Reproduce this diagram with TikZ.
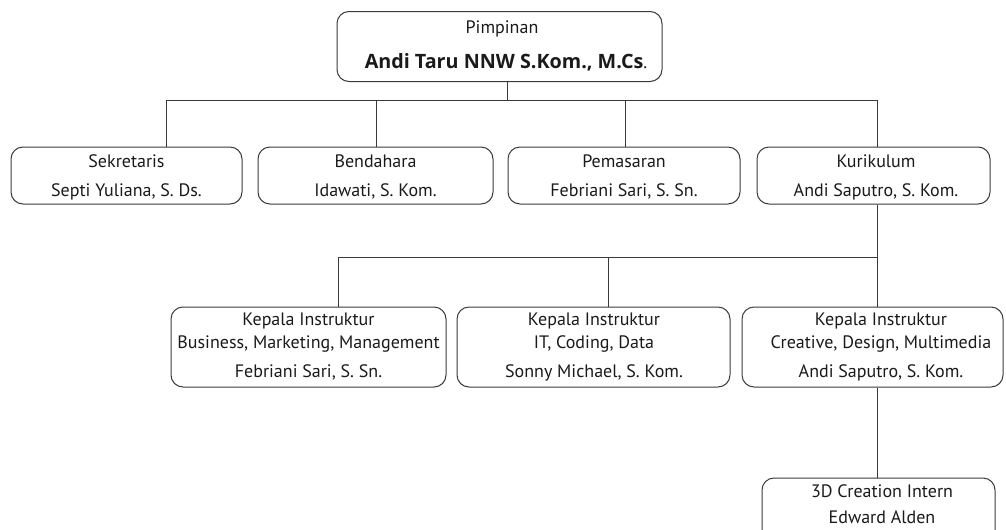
\documentclass[tikz,border=0pt]{standalone}
\usepackage{fontspec}
\setmainfont{PT Sans}
\newfontfamily\headfont{Open Sans}
\definecolor{linec}{HTML}{3A3A3A}
\definecolor{textc}{HTML}{1A1A1A}
\begin{document}
\begin{tikzpicture}[x=0.75pt,y=-0.75pt,
  box/.style 2 args={draw=linec, line width=0.75pt, rounded corners=9pt,
    minimum width={#1*0.75pt}, minimum height={#2*0.75pt}, inner sep=0pt},
  lbl/.style={font=\fontsize{13.5}{16}\selectfont, text=textc, inner sep=0pt, anchor=base},
  link/.style={draw=linec, line width=0.75pt}]
\clip (0,0) rectangle (1006,529);
% boxes
\node[box={325}{70}] (top) at (499.5,46.5) {};
\node[box={231}{57}] (sek) at (126.5,175.5) {};
\node[box={235}{57}] (ben) at (375.5,175.5) {};
\node[box={232}{57}] (pem) at (624,175.5) {};
\node[box={233}{57}] (kur) at (873.5,175.5) {};
\node[box={275}{80}] (kb) at (308.5,347) {};
\node[box={273}{80}] (ki) at (593.5,347) {};
\node[box={261}{80}] (kc) at (872.5,347) {};
\node[box={233}{70}] (intern) at (878.5,513) {};
% labels
\node[lbl] (topA) at (502,33) {Pimpinan};
\node[lbl] (topB) at (506,68) {{\headfont\fontsize{14.8}{17}\selectfont\bfseries Andi Taru NNW S.Kom., M.Cs}.};
\node[lbl] (sekA) at (126.5,167) {Sekretaris};
\node[lbl] (sekB) at (126.5,196) {Septi Yuliana, S. Ds.};
\node[lbl] (benA) at (375.5,167) {Bendahara};
\node[lbl] (benB) at (375.5,196) {Idawati, S. Kom.};
\node[lbl] (pemA) at (624,167) {Pemasaran};
\node[lbl] (pemB) at (624,196) {Febriani Sari, S. Sn.};
\node[lbl] (kurA) at (876,167) {Kurikulum};
\node[lbl] (kurB) at (876,196) {Andi Saputro, S. Kom.};
\node[lbl] (kbA) at (308.5,325) {Kepala Instruktur};
\node[lbl] (kbB) at (308.5,348) {Business, Marketing, Management};
\node[lbl] (kbC) at (308.5,377) {Febriani Sari, S. Sn.};
\node[lbl] (kiA) at (594,325) {Kepala Instruktur};
\node[lbl] (kiB) at (594,348) {IT, Coding, Data};
\node[lbl] (kiC) at (594,377) {Sonny Michael, S. Kom.};
\node[lbl] (kcA) at (881,325) {Kepala Instruktur};
\node[lbl] (kcB) at (881,348) {Creative, Design, Multimedia};
\node[lbl] (kcC) at (881,377) {Andi Saputro, S. Kom.};
\node[lbl] (inA) at (882,497) {3D Creation Intern};
\node[lbl] (inB) at (882,523) {Edward Alden};
% bus coordinates
\coordinate (bus1) at (507,100);
\coordinate (bus2) at (877,257);
% connectors
\draw[link] (top.south -| bus1) -- (bus1);
\draw[link] (sek.north -| 166,0) -- (166,100) -- (877,100) -- (kur.north -| 877,0);
\draw[link] (ben.north -| 376,0) -- (376,100);
\draw[link] (pem.north -| 625,0) -- (625,100);
\draw[link] (kur.south -| bus2) -- (kc.north -| bus2);
\draw[link] (kb.north -| 338,0) -- (338,257) -- (bus2);
\draw[link] (ki.north -| 608,0) -- (608,257);
\draw[link] (kc.south -| 877,0) -- (intern.north -| 877,0);
\end{tikzpicture}
\end{document}
